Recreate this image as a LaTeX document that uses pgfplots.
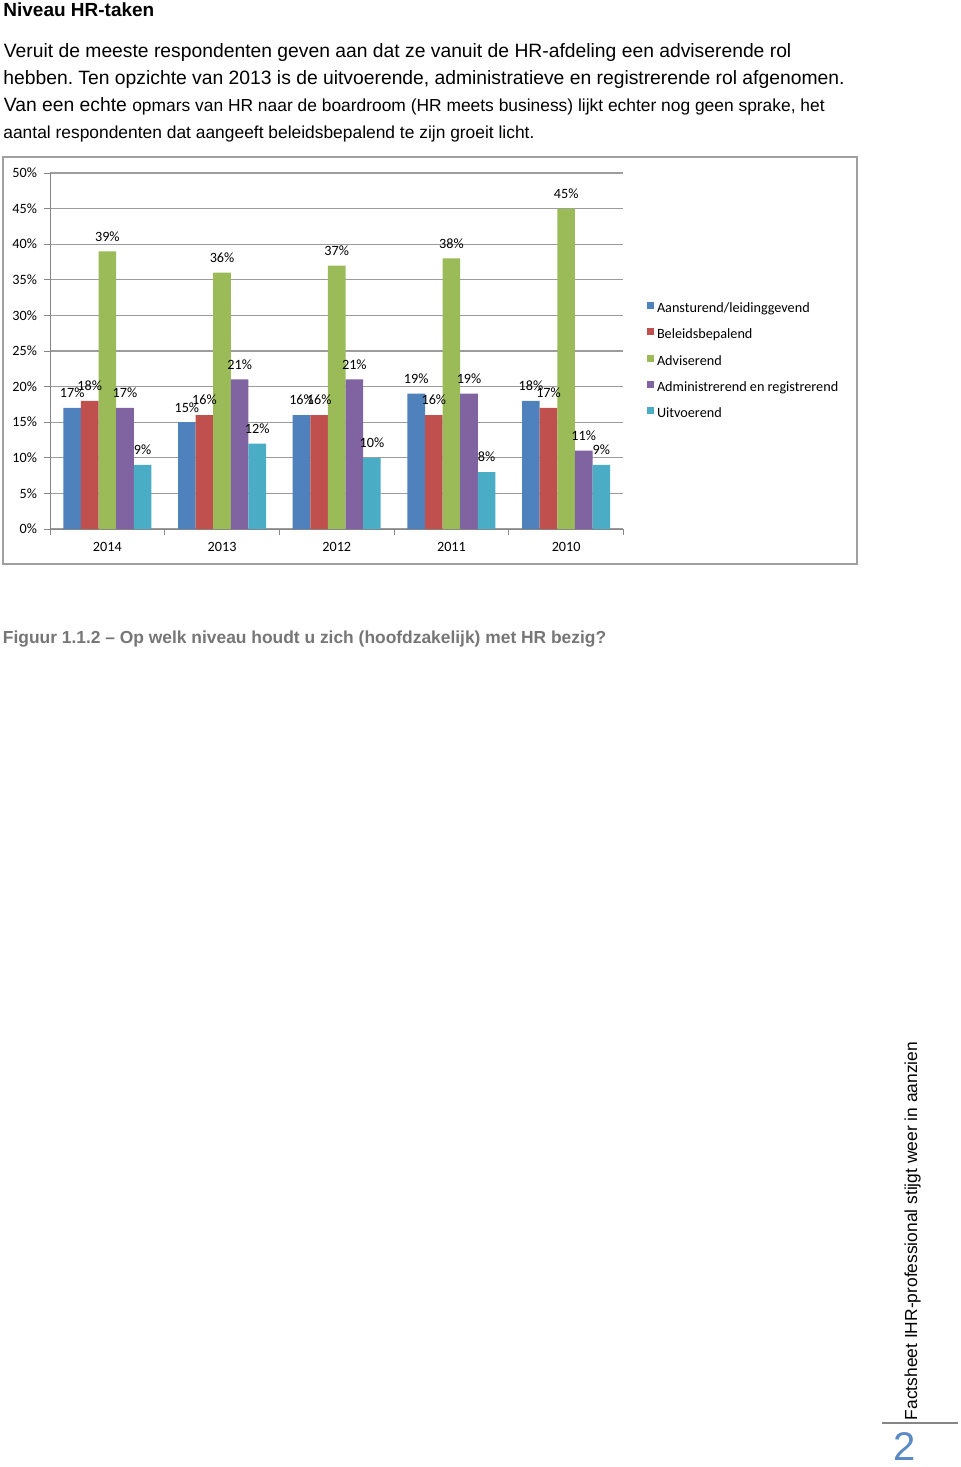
\documentclass[border=0pt]{standalone}
\usepackage{fontspec}
\setmainfont{Liberation Sans}
\newfontfamily\calibri{Carlito}
\usepackage{pgfplots}
\pgfplotsset{compat=1.18}

\definecolor{cblue}{HTML}{4F81BD}
\definecolor{cred}{HTML}{C0504D}
\definecolor{cgreen}{HTML}{9BBB59}
\definecolor{cpurple}{HTML}{8064A2}
\definecolor{caqua}{HTML}{4BACC6}
\definecolor{axisgray}{HTML}{868686}
\definecolor{gridgray}{HTML}{9C9C9C}
\definecolor{framegray}{HTML}{A0A0A0}
\definecolor{capgray}{HTML}{767676}
\definecolor{pageblue}{HTML}{5A8AC6}

\newcommand{\chartfont}{\calibri\fontsize{7.1}{8.5}\selectfont}
\pgfplotsset{sq/.style={legend image code/.code={\fill[#1] (0pt,0pt) rectangle (3.5pt,3.5pt);}}}

\begin{document}
\frenchspacing
\begin{tikzpicture}
% page in pixel units: x right, y down
\begin{scope}[x=0.5pt,y=-0.5pt]
\useasboundingbox (0,0) rectangle (960,1467);
\fill[white] (0,0) rectangle (960,1467);
\node[anchor=base west,inner sep=0pt,font=\bfseries\fontsize{9.5}{11}\selectfont] at (3,16.5) {Niveau HR-taken};
\node[anchor=base west,inner sep=0pt,font=\fontsize{9.65}{11}\selectfont] at (3.5,57) {Veruit de meeste respondenten geven aan dat ze vanuit de HR-afdeling een adviserende rol};
\node[anchor=base west,inner sep=0pt,font=\fontsize{9.65}{11}\selectfont] at (3,84) {hebben. Ten opzichte van 2013 is de uitvoerende, administratieve en registrerende rol afgenomen.};
\node[anchor=base west,inner sep=0pt,font=\fontsize{9.65}{11}\selectfont] at (3.5,111) {Van een echte {\fontsize{8.7}{10}\selectfont opmars van HR naar de boardroom (HR meets business) lijkt echter nog geen sprake, het}};
\node[anchor=base west,inner sep=0pt,font=\fontsize{8.7}{10}\selectfont] at (3,138) {aantal respondenten dat aangeeft beleidsbepalend te zijn groeit licht.};
\draw[framegray,line width=1pt] (3,157) rectangle (857,564);
\node[anchor=base west,inner sep=0pt,text=capgray,font=\bfseries\fontsize{8.7}{10}\selectfont] at (2.5,643) {Figuur 1.1.2 -- Op welk niveau houdt u zich (hoofdzakelijk) met HR bezig?};
\node[rotate=90,anchor=base west,inner sep=0pt,font=\fontsize{8.7}{10}\selectfont] at (917,1420.5) {Factsheet IHR-professional stijgt weer in aanzien};
\draw[axisgray,line width=0.75pt] (882,1423) -- (958,1423);
\node[anchor=base west,inner sep=0pt,text=pageblue,font=\fontsize{20}{22}\selectfont] at (893.5,1460) {2};
\end{scope}

\begin{axis}[
  at={(25pt,-264.5pt)}, anchor=south west,
  scale only axis, width=286.75pt, height=178pt,
  xmin=-0.5, xmax=4.5, ymin=0, ymax=50,
  axis x line*=bottom, axis y line*=left,
  axis line style={axisgray, line width=0.5pt},
  ytick={0,5,...,50},
  yticklabel={\pgfmathprintnumber{\tick}\%},
  xtick={0,...,4},
  xticklabels={2014,2013,2012,2011,2010},
  minor xtick={-0.5,0.5,...,4.5},
  major x tick style={draw=none},
  tick align=outside,
  major tick length=3pt, minor tick length=3pt,
  tick style={axisgray, line width=0.5pt},
  ymajorgrids, grid style={gridgray, line width=0.6pt},
  ticklabel style={font=\chartfont, text=black},
  /pgf/number format/assume math mode=true,
  ybar=0pt, bar width=8.8pt,
  nodes near coords={\pgfmathprintnumber{\pgfplotspointmeta}\%},
  every node near coord/.append style={font=\chartfont, inner sep=0pt, yshift=4.8pt, text=black},
  legend style={at={(1.0405,0.6368)}, anchor=north west, draw=none, fill=none,
    inner sep=0pt, outer sep=0pt, font=\chartfont, row sep=6.3pt,
    nodes={inner sep=0pt, text height=5pt, text depth=1.5pt},
    /tikz/every odd column/.append style={column sep=1.65pt}},
  legend cell align=left,
]
\addplot[fill=cblue, draw=none, sq=cblue] coordinates {(0,17) (1,15) (2,16) (3,19) (4,18)};
\addlegendentry{Aansturend/leidinggevend}
\addplot[fill=cred, draw=none, sq=cred] coordinates {(0,18) (1,16) (2,16) (3,16) (4,17)};
\addlegendentry{Beleidsbepalend}
\addplot[fill=cgreen, draw=none, sq=cgreen] coordinates {(0,39) (1,36) (2,37) (3,38) (4,45)};
\addlegendentry{Adviserend}
\addplot[fill=cpurple, draw=none, sq=cpurple] coordinates {(0,17) (1,21) (2,21) (3,19) (4,11)};
\addlegendentry{Administrerend en registrerend}
\addplot[fill=caqua, draw=none, sq=caqua] coordinates {(0,9) (1,12) (2,10) (3,8) (4,9)};
\addlegendentry{Uitvoerend}
\end{axis}
\end{tikzpicture}
\end{document}
